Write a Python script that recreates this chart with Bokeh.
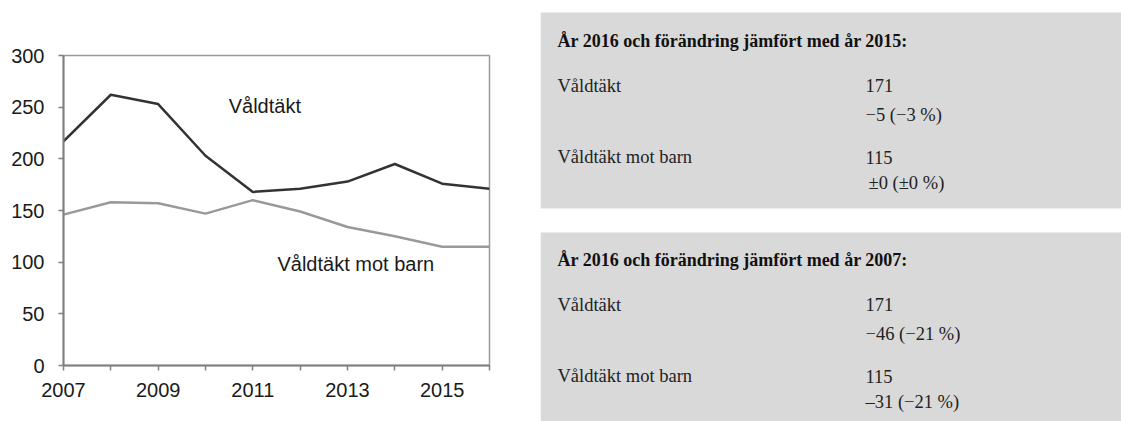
from bokeh.plotting import figure
from bokeh.layouts import row
from bokeh.models import Range1d, FixedTicker
from bokeh.core.properties import value
from bokeh.embed import file_html
from bokeh.resources import INLINE

# ---- data ----
years = [2007, 2008, 2009, 2010, 2011, 2012, 2013, 2014, 2015, 2016]
valdtakt = [217, 262, 253, 203, 168, 171, 178, 195, 176, 171]
valdtakt_barn = [146, 158, 157, 147, 160, 149, 134, 125, 115, 115]
y_ticks = [0, 50, 100, 150, 200, 250, 300]
x_ticks = years
x_tick_labels = ["2007", "", "2009", "", "2011", "", "2013", "", "2015", ""]
series_labels = ["Våldtäkt", "Våldtäkt mot barn"]

panel1_title = "År 2016 och förändring jämfört med år 2015:"
panel2_title = "År 2016 och förändring jämfört med år 2007:"
panel_rows = ["Våldtäkt", "Våldtäkt mot barn"]
panel1_values = ["171", "115"]
panel1_changes = ["\u22125 (\u22123 %)", "\u00b10 (\u00b10 %)"]
panel2_values = ["171", "115"]
panel2_changes = ["\u221246 (\u221221 %)", "\u201331 (\u221221 %)"]

SANS = "Liberation Sans"
SERIF = "Liberation Serif"

# ---- line chart ----
p1 = figure(width=540, height=421, output_backend="svg", toolbar_location=None,
            x_range=Range1d(2007, 2016), y_range=Range1d(0, 300),
            min_border_left=63, min_border_right=51, min_border_top=55, min_border_bottom=56)
p1.frame_align = False
p1.xgrid.visible = False
p1.ygrid.visible = False
p1.outline_line_color = "#9a9a9a"
p1.outline_line_width = 1.5
p1.background_fill_color = "white"
p1.border_fill_color = "white"

p1.line(years, valdtakt, line_color="#333333", line_width=2.5)
p1.line(years, valdtakt_barn, line_color="#999999", line_width=2.5)

p1.text(x=[2010.49], y=[251.6], text=[series_labels[0]], text_font=value(SANS),
        text_font_size="20px", text_color="#1a1a1a", text_baseline="middle", text_align="left")
p1.text(x=[2011.52], y=[98.7], text=[series_labels[1]], text_font=value(SANS),
        text_font_size="20px", text_color="#1a1a1a", text_baseline="middle", text_align="left")

for ax in (p1.xaxis[0], p1.yaxis[0]):
    ax.axis_line_color = "#808080"
    ax.axis_line_width = 2
    ax.major_tick_line_color = "#808080"
    ax.major_tick_line_width = 1.5
    ax.major_tick_in = 0
    ax.major_tick_out = 5
    ax.minor_tick_line_color = None
    ax.major_label_text_font = SANS
    ax.major_label_text_font_size = "20px"
    ax.major_label_text_color = "#1a1a1a"

p1.xaxis.ticker = FixedTicker(ticks=x_ticks)
p1.xaxis.major_label_overrides = {y: l for y, l in zip(x_ticks, x_tick_labels)}
p1.xaxis.major_label_standoff = 12
p1.yaxis.ticker = FixedTicker(ticks=y_ticks)
p1.yaxis.major_label_standoff = 14

# ---- side panels ----
p2 = figure(width=581, height=421, output_backend="svg", toolbar_location=None,
            x_range=Range1d(0, 581), y_range=Range1d(421, 0),
            x_axis_location=None, y_axis_location=None, min_border=0)
p2.frame_align = False
p2.xgrid.visible = False
p2.ygrid.visible = False
p2.outline_line_color = None
p2.background_fill_color = "white"
p2.border_fill_color = "white"

p2.quad(left=[0, 0], right=[581, 581], top=[12, 232], bottom=[208, 421],
        fill_color="#d9d9d9", line_color=None)


def panel(y0, title, values, changes):
    p2.text(x=[17], y=[y0], text=[title], text_font=value(SERIF), text_font_style="bold",
            text_font_size="18px", text_color="#111111", text_baseline="alphabetic")
    ys_row = [y0 + 45, y0 + 116.5]
    ys_chg = [y0 + 74, y0 + 142.5]
    p2.text(x=[17, 17], y=ys_row, text=panel_rows, text_font=value(SERIF),
            text_font_size="18.5px", text_color="#222222", text_baseline="alphabetic")
    p2.text(x=[325, 325], y=ys_row, text=values, text_font=value(SERIF),
            text_font_size="18.5px", text_color="#222222", text_baseline="alphabetic")
    xs_chg = [325, 328 if changes[1].startswith("\u00b1") else 325]
    p2.text(x=xs_chg, y=ys_chg, text=changes, text_font=value(SERIF),
            text_font_size="18.5px", text_color="#222222", text_baseline="alphabetic")


panel(40, panel1_title, panel1_values, panel1_changes)
panel(259, panel2_title, panel2_values, panel2_changes)

layout = row(p1, p2, spacing=0)
open("out.html", "w").write(file_html(layout, INLINE))
